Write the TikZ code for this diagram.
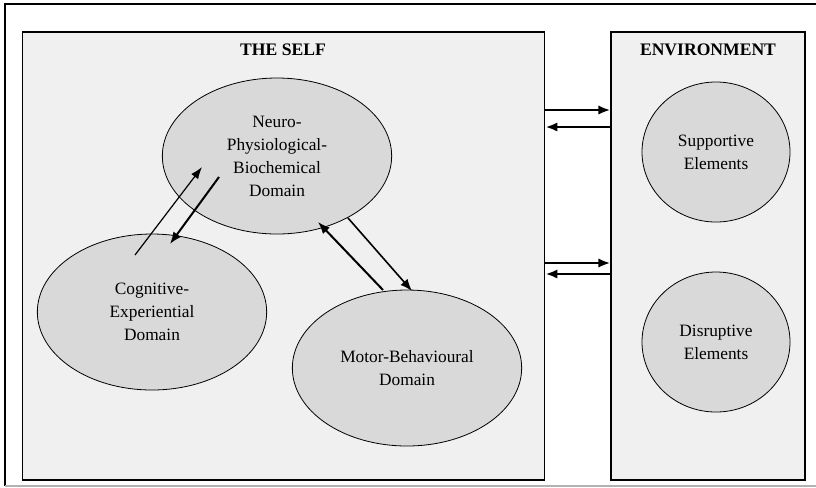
\documentclass[tikz,border=0pt]{standalone}
\usepackage{fontspec}
\setmainfont{Liberation Serif}
\usepackage{xcolor}
\usepackage{tikz}
\usetikzlibrary{shapes.geometric,arrows.meta,positioning}

\begin{document}
\begin{tikzpicture}[
    x=0.75pt, y=-0.75pt,
    panel/.style={rectangle, draw=black, line width=0.9pt, fill=gray!12, minimum height=336pt},
    sphere/.style={ellipse, draw=black, line width=0.6pt, fill=gray!30, minimum width=172pt, minimum height=117pt, align=center, inner sep=0pt},
    element/.style={ellipse, draw=black, line width=0.6pt, fill=gray!30, minimum width=111pt, minimum height=105pt, align=center, inner sep=0pt},
    title/.style={font=\fontsize{13.2}{15}\selectfont\bfseries},
    link/.style={-{Latex[length=9pt,width=7pt]}, line width=1.5pt},
    thinlink/.style={-{Latex[length=9pt,width=6.5pt]}, line width=0.9pt},
    every node/.style={font=\fontsize{13}{17.2}\selectfont}
]

\useasboundingbox (0,0) rectangle (816,487);

% Frame
\draw[line width=0.8pt] (816,4) -- (5,4) -- (5,486);
\draw[gray!60, line width=0.8pt] (5,486) -- (816,486);

% Panels
\node[panel, minimum width=392pt] (self) at (283.5,256) {};
\node[panel, minimum width=145.5pt] (env) at (708,256) {};
\node[title] (self_title) at (283,50) {THE SELF};
\node[title] (env_title) at (708,50) {ENVIRONMENT};

% Self domains
\node[sphere] (neuro) at (277,156) {Neuro-\\Physiological-\\Biochemical\\Domain};
\node[sphere] (cognitive) at (152,312) {Cognitive-\\Experiential\\Domain};
\node[sphere] (motor) at (407,368) {Motor-Behavioural\\Domain};

% Environment elements
\node[element] (supportive) at (716,152) {Supportive\\Elements};
\node[element] (disruptive) at (716,342) {Disruptive\\Elements};

% Arrow ends
\coordinate (cog_out) at (135,255);
\coordinate (neuro_in) at (202,167);
\coordinate (neuro_out) at (219,177);
\coordinate (cog_in) at (170,244);
\coordinate (motor_out) at (383,290);
\coordinate (neuro_in2) at (318,222);
\coordinate (neuro_out2) at (348,218);
\coordinate (motor_in) at (412,291);

% Relationships
\draw[thinlink] (cog_out) -- (neuro_in);
\draw[link] (neuro_out) -- (cog_in);
\draw[link] (motor_out) -- (neuro_in2);
\draw[link, line width=1.2pt] (neuro_out2) -- (motor_in);
\draw[link, line width=2pt] (self.east |- 0,110) -- (env.west |- 0,110);
\draw[link, line width=2pt] (env.west |- 0,127) -- (self.east |- 0,127);
\draw[link, line width=2pt] (self.east |- 0,263) -- (env.west |- 0,263);
\draw[link, line width=2pt] (env.west |- 0,274) -- (self.east |- 0,274);

\end{tikzpicture}
\end{document}
